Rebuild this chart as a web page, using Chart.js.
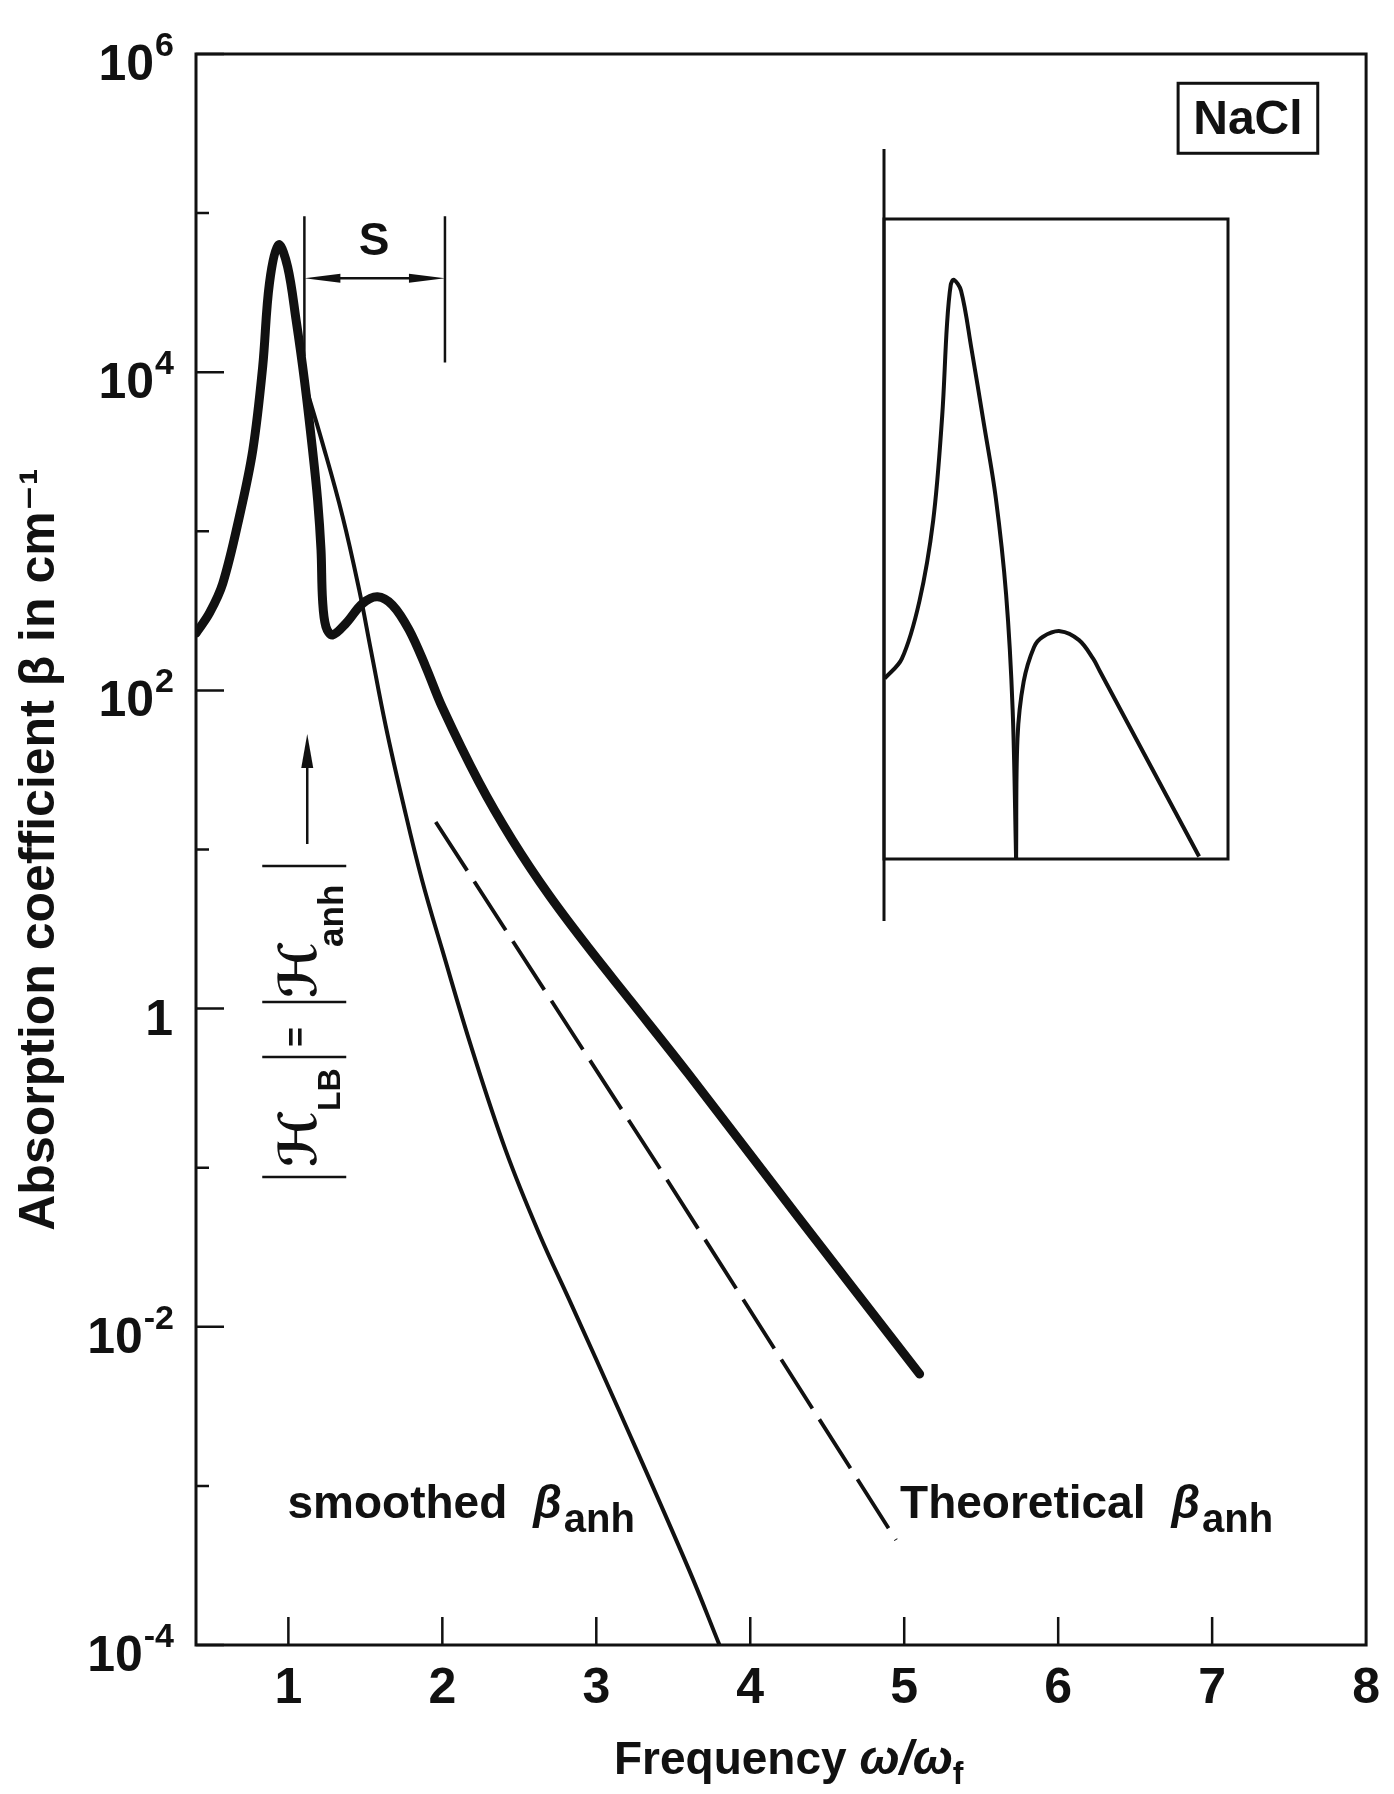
<!DOCTYPE html>
<html>
<head>
<meta charset="utf-8">
<script src="https://cdn.jsdelivr.net/npm/chart.js@4"></script>
<style>
  html, body { margin: 0; padding: 0; background: #fff; }
  #wrap { position: relative; width: 1394px; height: 1794px; }
  #main { position: absolute; left: 0; top: 0; }
  #inset { position: absolute; left: 860px; top: 130px; }
</style>
</head>
<body>
<div id="wrap">
  <canvas id="main" width="1394" height="1794"></canvas>
  <canvas id="inset" width="400" height="820"></canvas>
</div>
<script>
// measured total absorption (thick curve)
const freqTotal = [0.400, 0.488, 0.574, 0.682, 0.769, 0.833, 0.877, 0.937, 0.995, 1.050, 1.104,
  1.157, 1.190, 1.212, 1.222, 1.244, 1.287, 1.374, 1.482, 1.579, 1.676, 1.784, 1.892,
  2.000, 2.238, 2.454, 2.692, 2.951, 3.229, 3.599, 4.311, 5.100];
const betaTotal = [229, 307, 471, 1240, 3240, 10800, 36200, 63100, 46000, 21300, 8930,
  3240, 1570, 762, 370, 251, 223, 264, 352, 388, 344, 240, 141,
  78.2, 26.5, 11.5, 5.18, 2.40, 1.10, 0.388, 0.0490, 0.00505];

// smoothed beta_anh (thin curve)
const freqSmooth = [1.093, 1.222, 1.352, 1.460, 1.536, 1.633, 1.745, 1.868, 2.000,
  2.194, 2.411, 2.627, 2.843, 3.145, 3.599, 3.800];
const betaSmooth = [9380, 3570, 1240, 428, 179, 59.3, 19.6, 6.43, 2.33,
  0.550, 0.129, 0.0389, 0.0135, 0.00302, 0.000302, 0.0001];

// theoretical beta_anh (dashed)
const freqTheory = [1.957, 3.404, 4.947];
const betaTheory = [14.9, 0.102, 0.000457];

// inset, arbitrary linear units 0..100
const insetLeftX = [0.2, 5.2, 10.3, 14.3, 16.9, 18.3, 19.4, 20.3, 22.4, 25.4, 29.0, 32.5, 35.5, 37.4, 38.4];
const insetLeftY = [28.2, 31.3, 40.3, 52.9, 69.1, 83.4, 89.7, 90.5, 88.8, 79.8, 68.1, 56.4, 41.3, 23.3, 0];
const insetRightX = [38.4, 38.8, 40.6, 43.6, 46.1, 51.2, 56.7, 60.8, 62.8, 91.6];
const insetRightY = [0, 18.8, 27.7, 33.1, 34.7, 35.6, 34.2, 31.3, 29.3, 0.4];

const xTicks = [1, 2, 3, 4, 5, 6, 7, 8];
const yTickExps = [-4, -3, -2, -1, 0, 1, 2, 3, 4, 5, 6];
const yTickBase = ['10', '', '10', '', '1', '', '10', '', '10', '', '10'];
const yTickPower = ['-4', '', '-2', '', '', '', '2', '', '4', '', '6'];

const INK = '#111';
const FONT = '"Liberation Sans", "DejaVu Sans", Arial, sans-serif';

function pts(xs, ys) {
  return xs.map((x, i) => ({ x: x, y: ys[i] }));
}

const framePlugin = {
  id: 'frame',
  beforeDraw(chart) {
    const { ctx, width, height } = chart;
    ctx.save();
    ctx.fillStyle = '#fff';
    ctx.fillRect(0, 0, width, height);
    ctx.restore();
  },
  afterDraw(chart) {
    const { ctx, chartArea: a, scales: { x, y } } = chart;
    ctx.save();
    ctx.strokeStyle = INK;
    ctx.fillStyle = INK;
    ctx.lineWidth = 3;
    ctx.strokeRect(a.left, a.top, a.right - a.left, a.bottom - a.top);
    // inward ticks
    ctx.lineWidth = 2.5;
    ctx.beginPath();
    y.ticks.forEach((t, i) => {
      const py = y.getPixelForValue(t.value);
      const len = yTickBase[i] ? 28 : 13;
      ctx.moveTo(a.left, py);
      ctx.lineTo(a.left + len, py);
    });
    x.ticks.forEach(t => {
      if (t.value >= 8) return;
      const px = x.getPixelForValue(t.value);
      ctx.moveTo(px, a.bottom);
      ctx.lineTo(px, a.bottom - 28);
    });
    ctx.stroke();
    // decade labels with raised exponents
    ctx.textBaseline = 'alphabetic';
    y.ticks.forEach((t, i) => {
      if (!yTickBase[i]) return;
      const py = y.getPixelForValue(t.value);
      const right = a.left - 22;
      ctx.font = 'bold 34px ' + FONT;
      const pw = yTickPower[i] ? ctx.measureText(yTickPower[i]).width : 0;
      ctx.textAlign = 'left';
      if (pw) ctx.fillText(yTickPower[i], right - pw, py + 2);
      ctx.font = 'bold 50px ' + FONT;
      ctx.textAlign = 'right';
      ctx.fillText(yTickBase[i], right - pw - 1, py + 26);
    });
    ctx.restore();
  }
};

function labelWithSub(ctx, px, py, main, sub) {
  ctx.font = 'bold 46px ' + FONT;
  ctx.fillText(main, px, py);
  let cx = px + ctx.measureText(main).width + 26;
  ctx.font = 'italic bold 46px ' + FONT;
  ctx.fillText('β', cx, py);
  cx += ctx.measureText('β').width + 2;
  ctx.font = 'bold 40px ' + FONT;
  ctx.fillText(sub, cx, py + 14);
}

const notesPlugin = {
  id: 'notes',
  afterDraw(chart) {
    const { ctx, chartArea: a, scales: { x, y } } = chart;
    const X = v => x.getPixelForValue(v);
    const Y = v => y.getPixelForValue(v);
    ctx.save();
    ctx.strokeStyle = INK;
    ctx.fillStyle = INK;
    ctx.lineWidth = 2.5;

    // S bracket
    const xl = X(1.104), xr = X(2.017), ya = Y(38900);
    ctx.beginPath();
    ctx.moveTo(xl, Y(95500)); ctx.lineTo(xl, Y(12600));
    ctx.moveTo(xr, Y(95500)); ctx.lineTo(xr, Y(11500));
    ctx.moveTo(xl + 20, ya); ctx.lineTo(xr - 20, ya);
    ctx.stroke();
    ctx.beginPath();
    ctx.moveTo(xl, ya); ctx.lineTo(xl + 36, ya - 4.5); ctx.lineTo(xl + 36, ya + 4.5); ctx.closePath();
    ctx.moveTo(xr, ya); ctx.lineTo(xr - 36, ya - 4.5); ctx.lineTo(xr - 36, ya + 4.5); ctx.closePath();
    ctx.fill();
    ctx.font = 'bold 46px ' + FONT;
    ctx.textAlign = 'center';
    ctx.textBaseline = 'middle';
    ctx.fillText('S', X(1.557), Y(65300));

    // |H_LB| = |H_anh|  (rotated, reads upward)
    ctx.save();
    ctx.translate(X(1.181), Y(0.0875));
    ctx.rotate(-Math.PI / 2);
    ctx.textAlign = 'left';
    ctx.textBaseline = 'alphabetic';
    ctx.beginPath();
    [0, 120, 175, 311].forEach(u => { ctx.moveTo(u, -54); ctx.lineTo(u, 30); });
    ctx.moveTo(333, -9); ctx.lineTo(412, -9);
    ctx.stroke();
    ctx.beginPath();
    ctx.moveTo(443, -9); ctx.lineTo(409, -15); ctx.lineTo(409, -3); ctx.closePath();
    ctx.fill();
    ctx.font = 'bold 52px "DejaVu Sans"';
    ctx.fillText('ℋ', 10, 0);
    ctx.fillText('ℋ', 179, 0);
    ctx.font = 'bold 32px ' + FONT;
    ctx.fillText('LB', 66, 24);
    ctx.font = 'bold 35px ' + FONT;
    ctx.fillText('anh', 230, 27);
    ctx.font = 'bold 34px ' + FONT;
    ctx.fillText('=', 130, -9);
    ctx.restore();

    // curve labels
    ctx.textAlign = 'left';
    ctx.textBaseline = 'alphabetic';
    labelWithSub(ctx, X(0.994), Y(0.000628), 'smoothed', 'anh');
    labelWithSub(ctx, X(4.973), Y(0.000628), 'Theoretical', 'anh');

    // NaCl box
    const bl = X(6.779), br = X(7.686), bt = Y(654600), bb = Y(237700);
    ctx.lineWidth = 3;
    ctx.strokeRect(bl, bt, br - bl, bb - bt);
    ctx.font = 'bold 48px ' + FONT;
    ctx.textAlign = 'center';
    ctx.textBaseline = 'middle';
    ctx.fillText('NaCl', (bl + br) / 2, (bt + bb) / 2 + 2);

    // x axis title
    ctx.textAlign = 'left';
    ctx.textBaseline = 'alphabetic';
    const tb = a.bottom + 129;
    ctx.font = 'bold 46px ' + FONT;
    const w1 = ctx.measureText('Frequency ').width;
    ctx.font = 'italic bold 48px ' + FONT;
    const w2 = ctx.measureText('ω/ω').width;
    ctx.font = 'bold 32px ' + FONT;
    const w3 = ctx.measureText('f').width;
    let tx = X(4.25) - (w1 + w2 + w3) / 2;
    ctx.font = 'bold 46px ' + FONT;
    ctx.fillText('Frequency ', tx, tb);
    tx += w1;
    ctx.font = 'italic bold 48px ' + FONT;
    ctx.fillText('ω/ω', tx, tb);
    tx += w2;
    ctx.font = 'bold 32px ' + FONT;
    ctx.fillText('f', tx, tb + 10);

    ctx.restore();
  }
};

new Chart(document.getElementById('main'), {
  type: 'line',
  data: {
    datasets: [
      {
        label: 'measured',
        data: pts(freqTotal, betaTotal),
        borderColor: INK,
        borderWidth: 9,
        borderCapStyle: 'round',
        borderJoinStyle: 'round',
        tension: 0.35,
        pointRadius: 0
      },
      {
        label: 'smoothed β anh',
        data: pts(freqSmooth, betaSmooth),
        borderColor: INK,
        borderWidth: 4,
        tension: 0.4,
        pointRadius: 0
      },
      {
        label: 'Theoretical β anh',
        data: pts(freqTheory, betaTheory),
        borderColor: INK,
        borderWidth: 3.8,
        borderDash: [58, 13],
        tension: 0,
        pointRadius: 0
      }
    ]
  },
  options: {
    responsive: false,
    animation: false,
    devicePixelRatio: 1,
    layout: { padding: { top: 54, right: 25, left: 0, bottom: 0 } },
    plugins: { legend: { display: false }, tooltip: { enabled: false } },
    scales: {
      x: {
        type: 'linear',
        min: 0.4,
        max: 8,
        afterFit: s => { s.height = 149; },
        afterBuildTicks: s => { s.ticks = xTicks.map(v => ({ value: v })); },
        grid: { display: false, drawTicks: false },
        border: { display: false },
        ticks: {
          color: INK,
          font: { family: FONT, size: 50, weight: 'bold' },
          padding: 14,
          autoSkip: false,
          maxRotation: 0,
          callback: v => String(v)
        }
      },
      y: {
        type: 'logarithmic',
        min: 1e-4,
        max: 1e6,
        afterFit: s => { s.width = 196; },
        afterBuildTicks: s => { s.ticks = yTickExps.map(e => ({ value: Math.pow(10, e) })); },
        grid: { display: false, drawTicks: false },
        border: { display: false },
        ticks: { display: false },
        title: {
          display: true,
          text: 'Absorption coefficient β in cm⁻¹',
          color: INK,
          font: { family: FONT, size: 50, weight: 'bold' },
          padding: { top: 10, bottom: 0 }
        }
      }
    }
  },
  plugins: [framePlugin, notesPlugin]
});

const insetFrame = {
  id: 'insetFrame',
  afterDraw(chart) {
    const { ctx, chartArea: a } = chart;
    ctx.save();
    ctx.strokeStyle = INK;
    ctx.lineWidth = 3;
    ctx.strokeRect(a.left, a.top, a.right - a.left, a.bottom - a.top);
    ctx.beginPath();
    ctx.moveTo(a.left, a.top - 70);
    ctx.lineTo(a.left, a.bottom + 62);
    ctx.stroke();
    ctx.restore();
  }
};

new Chart(document.getElementById('inset'), {
  type: 'line',
  data: {
    datasets: [
      { data: pts(insetLeftX, insetLeftY), borderColor: INK, borderWidth: 4, tension: 0.35, pointRadius: 0 },
      { data: pts(insetRightX, insetRightY), borderColor: INK, borderWidth: 4, tension: 0.35, pointRadius: 0 }
    ]
  },
  options: {
    responsive: false,
    animation: false,
    devicePixelRatio: 1,
    layout: { padding: { left: 24, top: 89, right: 32, bottom: 91 } },
    plugins: { legend: { display: false }, tooltip: { enabled: false } },
    scales: {
      x: { type: 'linear', min: 0, max: 100, display: false },
      y: { type: 'linear', min: 0, max: 100, display: false }
    }
  },
  plugins: [insetFrame]
});
</script>
</body>
</html>
